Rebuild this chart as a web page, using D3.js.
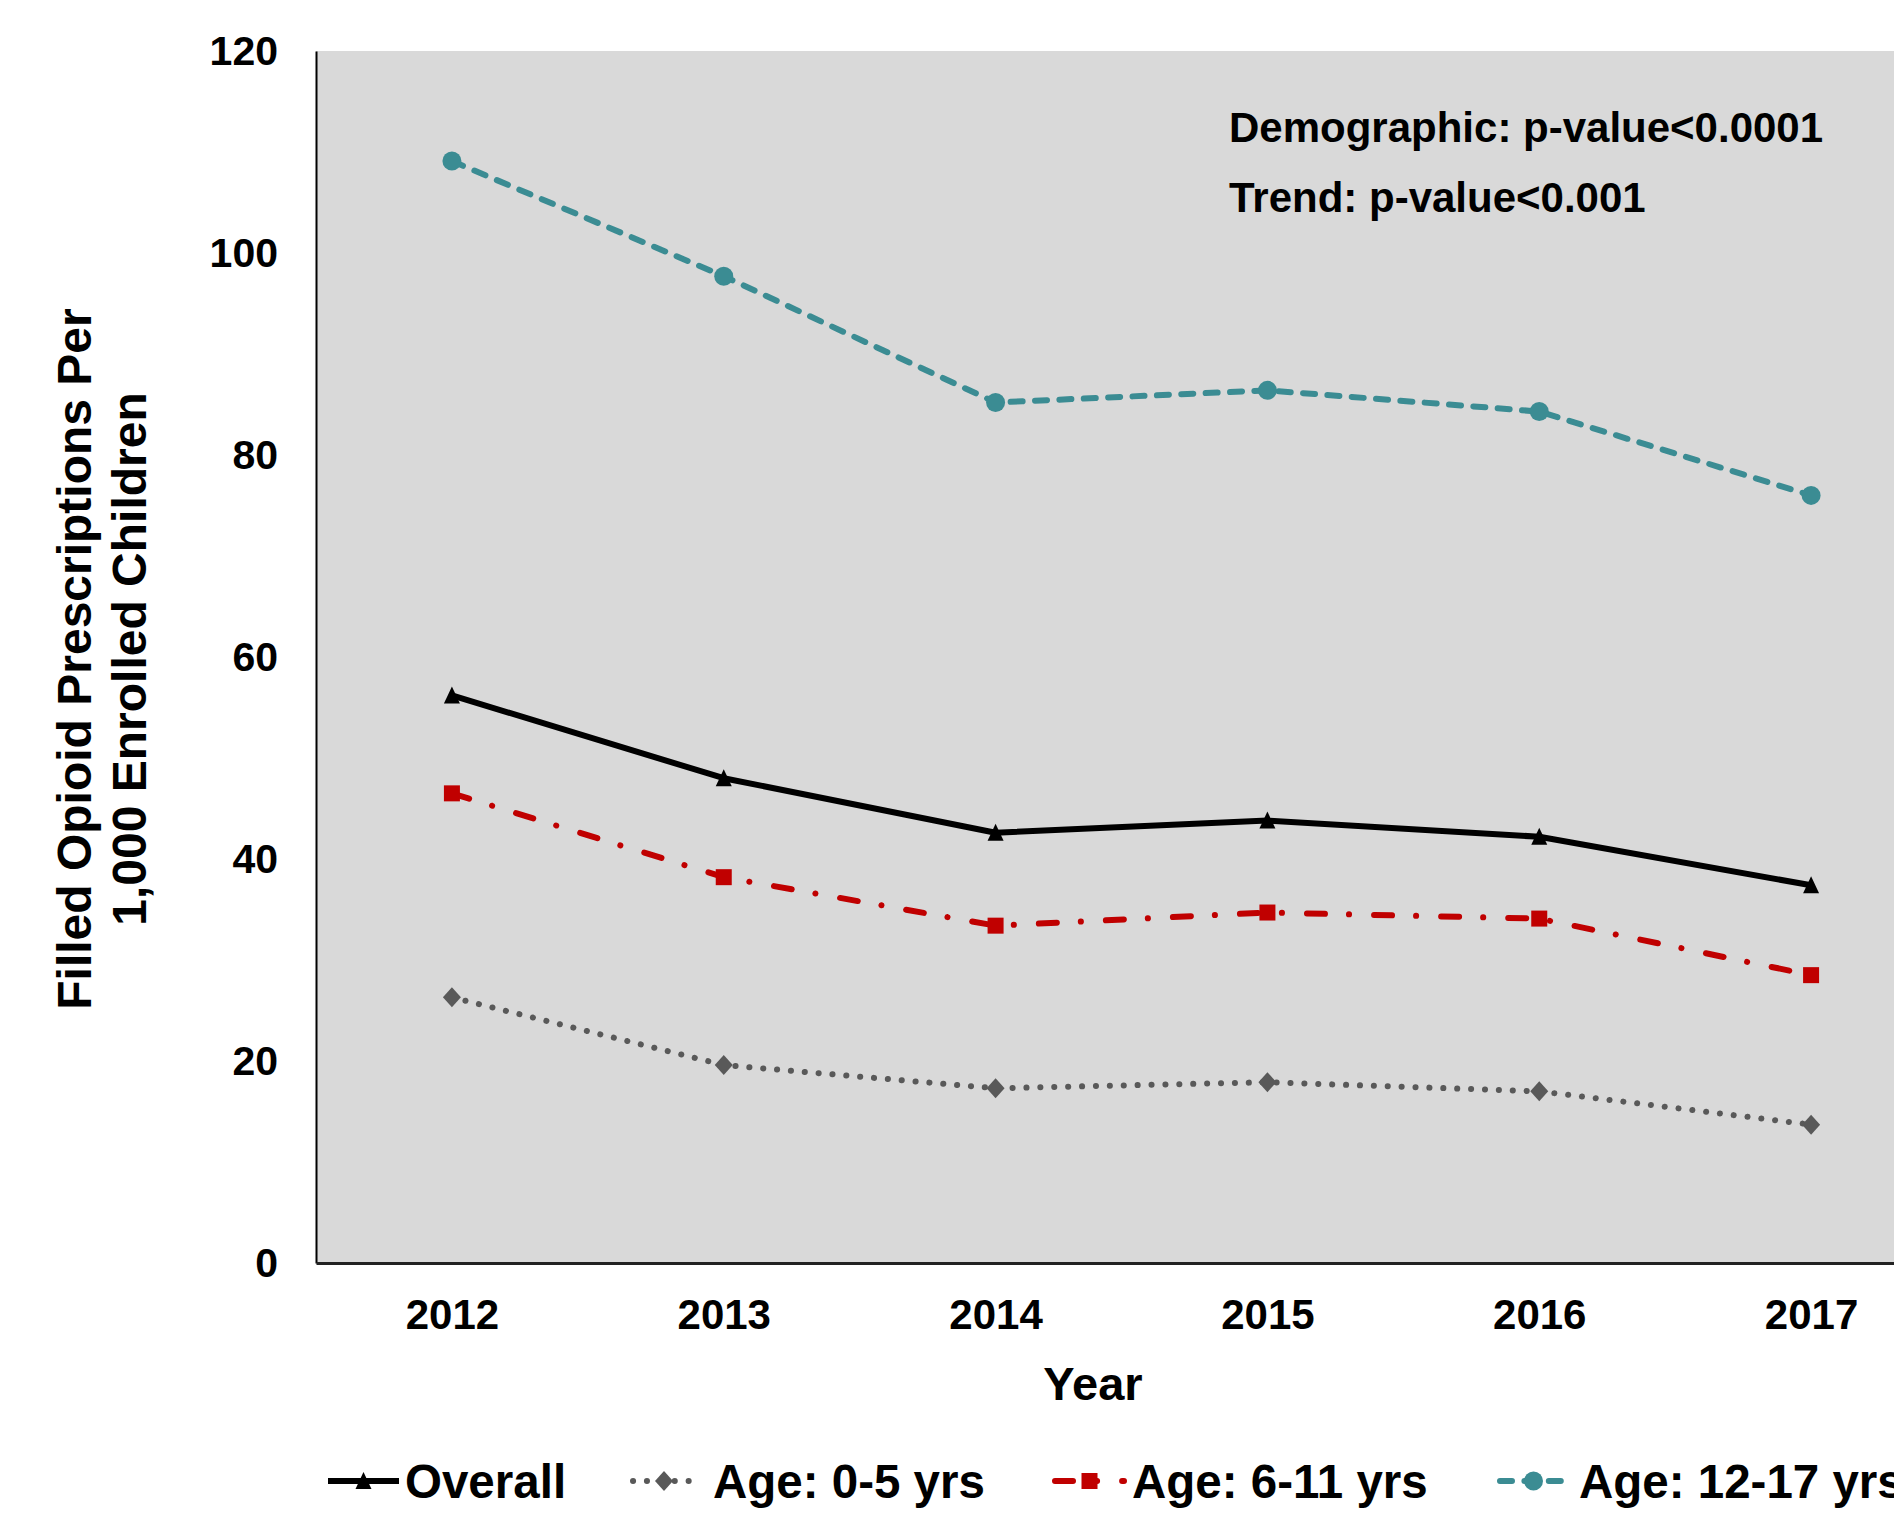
<!DOCTYPE html>
<html>
<head>
<meta charset="utf-8">
<script src="https://cdn.jsdelivr.net/npm/d3@7"></script>
<style>
  html, body { margin: 0; padding: 0; background: #ffffff; overflow: hidden; }
  svg { display: block; }
  text { font-family: "Liberation Sans", Arial, sans-serif; font-weight: bold; fill: #000; }
</style>
</head>
<body>
<svg id="chart" width="1894" height="1517"></svg>
<script>
// ---- Data ----
const years = ["2012", "2013", "2014", "2015", "2016", "2017"];
const overall = [56.2, 48.0, 42.6, 43.8, 42.2, 37.4];
const age0to5 = [26.3, 19.6, 17.3, 17.9, 17.0, 13.7];
const age6to11 = [46.5, 38.2, 33.4, 34.7, 34.1, 28.5];
const age12to17 = [109.1, 97.7, 85.2, 86.4, 84.3, 76.0];
const seriesNames = ["Overall", "Age: 0-5 yrs", "Age: 6-11 yrs", "Age: 12-17 yrs"];
const yTicks = [0, 20, 40, 60, 80, 100, 120];
const annotations = ["Demographic: p-value<0.0001", "Trend: p-value<0.001"];
const yTitleLines = ["Filled Opioid Prescriptions Per", "1,000 Enrolled Children"];
const xTitle = "Year";

// ---- Styles ----
const styles = [
  { color: "#000000", width: 6, dash: null, cap: "butt", marker: "triangle" },
  { color: "#595959", width: 6, dash: "0.1,13.8", cap: "round", marker: "diamond" },
  { color: "#C00000", width: 6, dash: "18,24,0.1,25", cap: "round", marker: "square" },
  { color: "#3B8C93", width: 6, dash: "12,12.4", cap: "round", marker: "circle" }
];
const seriesValues = [overall, age0to5, age6to11, age12to17];
const series = seriesNames.map((name, i) => ({
  name, values: seriesValues[i], style: styles[i]
}));

// ---- Layout ----
const svg = d3.select("#chart");
const plot = { left: 316, right: 1947, top: 51, bottom: 1263 };

const x = d3.scalePoint().domain(years).range([plot.left, plot.right]).padding(0.5);
const y = d3.scaleLinear().domain([0, 120]).range([plot.bottom, plot.top]);

// plot background
svg.append("rect")
  .attr("x", plot.left).attr("y", plot.top)
  .attr("width", plot.right - plot.left).attr("height", plot.bottom - plot.top)
  .attr("fill", "#D9D9D9");

// Y axis
const yAxis = d3.axisLeft(y).tickValues(yTicks).tickSize(0).tickPadding(38);
const gy = svg.append("g").attr("transform", `translate(${plot.left},0)`).call(yAxis);
gy.select(".domain").attr("stroke", "#000").attr("stroke-width", 2);
gy.selectAll(".tick text")
  .attr("font-size", 41).attr("font-family", "Liberation Sans, Arial, sans-serif")
  .attr("font-weight", "bold").attr("fill", "#000");

// X axis
const xAxis = d3.axisBottom(x).tickSize(0).tickPadding(36);
const gx = svg.append("g").attr("transform", `translate(0,${plot.bottom})`).call(xAxis);
gx.select(".domain").attr("stroke", "#222").attr("stroke-width", 3);
gx.selectAll(".tick text")
  .attr("font-size", 42).attr("font-family", "Liberation Sans, Arial, sans-serif")
  .attr("font-weight", "bold").attr("fill", "#000");

// marker drawing
function marker(sel, type, color) {
  if (type === "triangle") {
    sel.append("path").attr("d", "M0,-9L8,8L-8,8Z").attr("fill", color);
  } else if (type === "diamond") {
    sel.append("path").attr("d", "M0,-10L9,0L0,10L-9,0Z").attr("fill", color);
  } else if (type === "square") {
    sel.append("rect").attr("x", -8).attr("y", -8).attr("width", 16).attr("height", 16).attr("fill", color);
  } else if (type === "circle") {
    sel.append("circle").attr("r", 9.5).attr("fill", color);
  }
}

// lines
const line = d3.line().x((d, i) => x(years[i])).y(d => y(d));
series.forEach(s => {
  svg.append("path")
    .datum(s.values)
    .attr("d", line)
    .attr("fill", "none")
    .attr("stroke", s.style.color)
    .attr("stroke-width", s.style.width)
    .attr("stroke-linecap", s.style.cap)
    .attr("stroke-linejoin", "round")
    .attr("stroke-dasharray", s.style.dash);
  s.values.forEach((v, i) => {
    const g = svg.append("g").attr("transform", `translate(${x(years[i])},${y(v)})`);
    marker(g, s.style.marker, s.style.color);
  });
});

// annotations
annotations.forEach((t, i) => {
  svg.append("text").attr("x", 1229).attr("y", 142 + i * 70)
    .attr("font-size", 42).text(t);
});

// Y title
const yt = svg.append("text")
  .attr("transform", "translate(0,659) rotate(-90)")
  .attr("text-anchor", "middle")
  .attr("font-size", 48);
yTitleLines.forEach((t, i) => {
  yt.append("tspan").attr("x", 0).attr("y", 91 + i * 55).text(t);
});

// X title
svg.append("text").attr("x", 1093).attr("y", 1400)
  .attr("text-anchor", "middle").attr("font-size", 47).text(xTitle);

// legend
const legendPos = [
  { x0: 328, x1: 399, tx: 405 },
  { x0: 633, x1: 695, tx: 713 },
  { x0: 1055, x1: 1124, tx: 1132 },
  { x0: 1500, x1: 1567, tx: 1579 }
];
const ly = 1481;
series.forEach((s, i) => {
  const p = legendPos[i];
  svg.append("line")
    .attr("x1", p.x0).attr("x2", p.x1).attr("y1", ly).attr("y2", ly)
    .attr("stroke", s.style.color).attr("stroke-width", s.style.width)
    .attr("stroke-linecap", s.style.cap)
    .attr("stroke-dasharray", s.style.dash);
  const g = svg.append("g").attr("transform", `translate(${(p.x0 + p.x1) / 2},${ly})`);
  marker(g, s.style.marker, s.style.color);
  svg.append("text").attr("x", p.tx).attr("y", 1498).attr("font-size", 47.5).text(s.name);
});
</script>
</body>
</html>
